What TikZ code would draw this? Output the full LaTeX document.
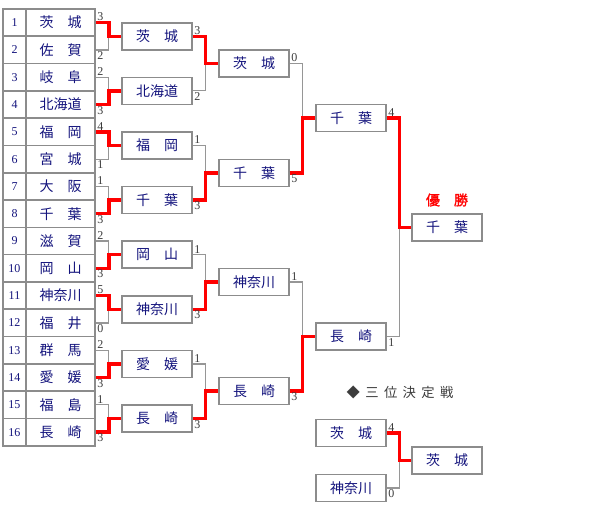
\documentclass[tikz,border=0pt]{standalone}
\usepackage{fontspec}
\setmainfont{Liberation Serif}
\newfontfamily\jpfont{Noto Sans CJK JP}
\newfontfamily\jpbold[FakeBold=1.5]{Noto Sans CJK JP}
\newfontfamily\jpspaced[LetterSpace=40]{Noto Sans CJK JP}
\definecolor{nameColor}{RGB}{20,20,125}
\definecolor{lineColor}{RGB}{150,150,150}
\definecolor{boxColor}{RGB}{140,140,140}
\definecolor{winColor}{RGB}{255,0,0}
\definecolor{scoreColor}{RGB}{60,60,60}

\tikzset{
    numcell/.style={draw=boxColor, line width=1.2pt, fill=white, inner sep=0pt,
        minimum width=17.25pt, minimum height=20.5pt, text=nameColor,
        font=\fontsize{9}{10}\selectfont},
    namecell/.style={numcell, minimum width=51.75pt, font=\jpfont\fontsize{10.5}{12}\selectfont},
    teambox/.style={draw=boxColor, line width=1.1pt, fill=white, inner sep=0pt,
        minimum width=52.5pt, minimum height=20.25pt, text=nameColor,
        font=\jpfont\fontsize{10.5}{12}\selectfont},
    bracket/.style={draw=lineColor, line width=0.9pt},
    win/.style={draw=winColor, line width=2.6pt},
    score/.style={inner sep=1pt, text=scoreColor, font=\fontsize{9}{10}\selectfont}
}

\begin{document}
\begin{tikzpicture}[x=0.75pt, y=-0.75pt]
                \useasboundingbox (0,0) rectangle (600,510);

                % Tabla de equipos
                \foreach \name [count=\k] in {茨　城, 佐　賀, 岐　阜, 北海道, 福　岡, 宮　城, 大　阪, 千　葉,
                                              滋　賀, 岡　山, 神奈川, 福　井, 群　馬, 愛　媛, 福　島, 長　崎} {
                    \node[numcell] (n\k) at (14.5, {9+27.3*(\k-0.5)}) {\k};
                    \node[namecell] (t\k) at (60.5, {9+27.3*(\k-0.5)}) {\name};
                }

                % Segunda ronda
                \foreach \name [count=\i] in {茨　城, 北海道, 福　岡, 千　葉, 岡　山, 神奈川, 愛　媛, 長　崎}
                    \node[teambox] (a\i) at (157, {36.3+54.6*(\i-1)}) {\name};

                % Cuartos
                \foreach \name [count=\i] in {茨　城, 千　葉, 神奈川, 長　崎}
                    \node[teambox] (b\i) at (254, {63.6+109.2*(\i-1)}) {\name};

                % Finalistas y campeon
                \node[teambox] (c1) at (351, 118.2) {千　葉};
                \node[teambox] (c2) at (351, 336.6) {長　崎};
                \node[teambox] (champ) at (447, 227.4) {千　葉};
                \node[text=winColor, font=\jpbold\fontsize{10.5}{12}\selectfont] (yusho) at (447, 200) {優　勝};

                % Llaves de la primera ronda
                \foreach \w [count=\i] in {1,4,5,8,10,11,14,16} {
                    \pgfmathtruncatemacro\up{2*\i-1}
                    \pgfmathtruncatemacro\dn{2*\i}
                    \draw[bracket] (t\up.east) -- ++(13,0) |- (t\dn.east);
                    \draw[win] (t\w.east) -- ++(13,0) |- (a\i.west);
                }
                \foreach \s [count=\k] in {3,2,2,3,4,1,1,3,2,3,5,0,2,3,1,3} {
                    \ifodd\k\relax
                        \node[score, above right] (s\k) at (t\k.east) {\s};
                    \else
                        \node[score, below right] (s\k) at (t\k.east) {\s};
                    \fi
                }

                % Llaves de la segunda ronda
                \foreach \w [count=\i] in {1,4,6,8} {
                    \pgfmathtruncatemacro\up{2*\i-1}
                    \pgfmathtruncatemacro\dn{2*\i}
                    \draw[bracket] (a\up.east) -- ++(13,0) |- (a\dn.east);
                    \draw[win] (a\w.east) -- ++(13,0) |- (b\i.west);
                }
                \foreach \s [count=\k] in {3,2,1,3,1,3,1,3} {
                    \ifodd\k\relax
                        \node[score, above right] (sa\k) at (a\k.east) {\s};
                    \else
                        \node[score, below right] (sa\k) at (a\k.east) {\s};
                    \fi
                }

                % Llaves de cuartos
                \draw[bracket] (b1.east) -- ++(13,0) |- (b2.east);
                \draw[bracket] (b3.east) -- ++(13,0) |- (b4.east);
                \draw[win] (b2.east) -- ++(13,0) |- (c1.west);
                \draw[win] (b4.east) -- ++(13,0) |- (c2.west);
                \node[score, above right] (sb1) at (b1.east) {0};
                \node[score, below right] (sb2) at (b2.east) {5};
                \node[score, above right] (sb3) at (b3.east) {1};
                \node[score, below right] (sb4) at (b4.east) {3};

                % Final
                \draw[bracket] (c1.east) -- ++(13,0) |- (c2.east);
                \draw[win] (c1.east) -- ++(13,0) |- (champ.west);
                \node[score, above right] (sc1) at (c1.east) {4};
                \node[score, below right] (sc2) at (c2.east) {1};

                % Tercer puesto
                \node[text=scoreColor, font=\jpspaced\fontsize{10}{12}\selectfont] (third) at (400, 392) {◆三位決定戦};
                \node[teambox] (d1) at (351, 433) {茨　城};
                \node[teambox] (d2) at (351, 488) {神奈川};
                \node[teambox] (dwin) at (447, 460.5) {茨　城};
                \draw[bracket] (d1.east) -- ++(13,0) |- (d2.east);
                \draw[win] (d1.east) -- ++(13,0) |- (dwin.west);
                \node[score, above right] (sd1) at (d1.east) {4};
                \node[score, below right] (sd2) at (d2.east) {0};
            \end{tikzpicture}
\end{document}
